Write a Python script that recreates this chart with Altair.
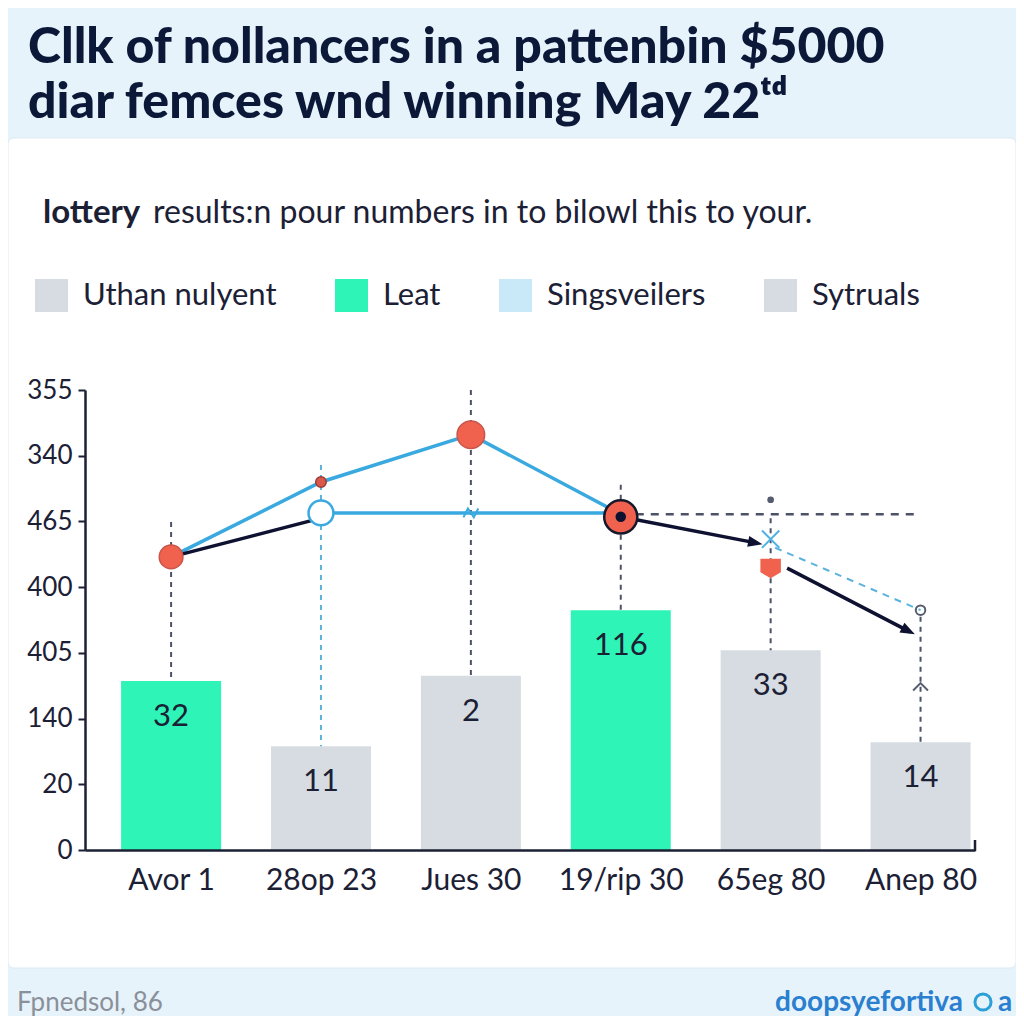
import json
import math
import altair as alt
import pandas as pd

# ---------------- data ----------------
categories = ["Avor 1", "28op 23", "Jues 30", "19/rip 30", "65eg 80", "Anep 80"]
bar_heights = [2.57, 1.58, 2.65, 3.65, 3.04, 1.64]          # in y-tick steps
bar_labels = ["32", "11", "2", "116", "33", "14"]
bar_groups = ["Leat", "Uthan nulyent", "Uthan nulyent", "Leat", "Sytruals", "Sytruals"]
y_tick_labels = ["0", "20", "140", "405", "400", "465", "340", "355"]
legend_names = ["Uthan nulyent", "Leat", "Singsveilers", "Sytruals"]
legend_colors = ["#d6dce1", "#2ef5b7", "#c9e9f9", "#d6dce1"]

upper_x = [0, 1, 2, 3]
upper_y = [4.46, 5.60, 6.32, 5.11]
flat_x = [1, 2, 3]
flat_y = [5.13, 5.13, 5.13]
black_x = [0, 1]
black_y = [4.46, 5.05]
arrow_x0 = [3.0, 4.11]
arrow_y0 = [5.07, 4.29]
arrow_x1 = [3.91, 4.93]
arrow_y1 = [4.67, 3.32]
dblue_x = [4.03, 5.0]
dblue_y = [4.60, 3.65]
drop_x = [0, 2, 3, 4, 5]
drop_top = [4.99, 7.0, 5.56, 5.05, 3.55]
drop_bottom = [2.57, 2.65, 3.65, 3.04, 1.64]
drop_blue_x = [1]
drop_blue_top = [5.86]
drop_blue_bottom = [1.58]
hdash_x0 = [3.0]
hdash_x1 = [5.0]
hdash_y = [5.11]

title_line1 = "Cllk of nollancers in a pattenbin $5000"
title_line2 = "diar femces wnd winning May 22ᵗᵈ"
subtitle_bold = "lottery"
subtitle_rest = "results:n pour numbers in to bilowl this to your."
footer_left = "Fpnedsol, 86"
footer_right = "doopsyefortiva"

# ---------------- scales / axes ----------------
PW, PH = 890, 460
X_DOMAIN = [-0.541, 5.33]
Y_DOMAIN = [0, 7]
INK = "#1b2035"

x_scale = alt.Scale(domain=X_DOMAIN, nice=False, zero=False)
y_scale = alt.Scale(domain=Y_DOMAIN, nice=False, zero=False)
x_axis = alt.Axis(values=list(range(len(categories))),
                  labelExpr=f"{json.dumps(categories)}[datum.value]",
                  title=None, grid=False, ticks=False, domainColor=INK, domainWidth=2.5,
                  labelFont="Lato", labelFontSize=30, labelColor=INK, labelPadding=15,
                  labelFlush=False, labelOverlap=False, zindex=1)
y_axis = alt.Axis(values=list(range(len(y_tick_labels))),
                  labelExpr=f"{json.dumps(y_tick_labels)}[datum.value]",
                  title=None, grid=False, tickSize=7, tickWidth=2, tickColor=INK,
                  domainColor=INK, domainWidth=2.5,
                  labelFont="Lato", labelFontSize=26, labelColor=INK, labelPadding=6,
                  labelFlush=False, labelOverlap=False, zindex=1)


def X(f):
    return alt.X(f"{f}:Q", scale=x_scale, axis=x_axis)


def Y(f):
    return alt.Y(f"{f}:Q", scale=y_scale, axis=y_axis)


one = pd.DataFrame({"k": [0]})
PXX = PW / (X_DOMAIN[1] - X_DOMAIN[0])
PXY = PH / (Y_DOMAIN[1] - Y_DOMAIN[0])

# ---------------- layers ----------------
panel = alt.Chart(one).mark_rect(color="white", cornerRadius=6, stroke="#dde9f2").encode(
    x=alt.value(-77), x2=alt.value(931), y=alt.value(-252), y2=alt.value(578))

bars_df = pd.DataFrame({"x": list(range(len(categories))), "h": bar_heights,
                        "label": bar_labels, "group": bar_groups})
bars = alt.Chart(bars_df).mark_bar(size=100).encode(
    x=X("x"), y=Y("h"),
    color=alt.Color("group:N", scale=alt.Scale(domain=legend_names, range=legend_colors),
                    legend=alt.Legend(orient="none", legendX=-50, legendY=-111,
                                      direction="horizontal", columns=4, title=None,
                                      symbolType="square", symbolSize=1089,
                                      symbolStrokeWidth=0, symbolOpacity=1,
                                      labelFont="Lato", labelFontSize=31, labelColor=INK,
                                      labelOffset=15, labelLimit=400, columnPadding=58,
                                      padding=0, offset=0)))

bar_text = alt.Chart(bars_df).mark_text(font="Lato", fontSize=31, color=INK, dy=36,
                                        baseline="middle").encode(
    x=X("x"), y=Y("h"), text="label:N")

drops = alt.Chart(pd.DataFrame({"x": drop_x, "t": drop_top, "b": drop_bottom})).mark_rule(
    color="#4c5368", strokeWidth=2, strokeDash=[5, 5]).encode(x=X("x"), y=Y("t"), y2="b:Q")
drops_blue = alt.Chart(pd.DataFrame({"x": drop_blue_x, "t": drop_blue_top,
                                     "b": drop_blue_bottom})).mark_rule(
    color="#5cb3dc", strokeWidth=2, strokeDash=[5, 5]).encode(x=X("x"), y=Y("t"), y2="b:Q")
hdash = alt.Chart(pd.DataFrame({"x": hdash_x0, "x1": hdash_x1, "y": hdash_y})).mark_rule(
    color="#4c5368", strokeWidth=2.5, strokeDash=[8, 7]).encode(x=X("x"), x2="x1:Q", y=Y("y"))

upper = alt.Chart(pd.DataFrame({"x": upper_x, "y": upper_y})).mark_line(
    color="#3aa9e0", strokeWidth=3.5).encode(x=X("x"), y=Y("y"))
flat = alt.Chart(pd.DataFrame({"x": flat_x, "y": flat_y})).mark_line(
    color="#3aa9e0", strokeWidth=3.5).encode(x=X("x"), y=Y("y"))
black = alt.Chart(pd.DataFrame({"x": black_x, "y": black_y})).mark_line(
    color="#0e1130", strokeWidth=3.5).encode(x=X("x"), y=Y("y"))
dblue = alt.Chart(pd.DataFrame({"x": dblue_x, "y": dblue_y})).mark_line(
    color="#5cb3dc", strokeWidth=2, strokeDash=[7, 6]).encode(x=X("x"), y=Y("y"))

arr_df = pd.DataFrame({"x": arrow_x0, "y": arrow_y0, "x1": arrow_x1, "y1": arrow_y1})
arr_df["ang"] = [math.degrees(math.atan2((a - b) * PXY, (c - d) * PXX)) for a, b, c, d in
                 zip(arrow_y0, arrow_y1, arrow_x1, arrow_x0)]
arrows = alt.Chart(arr_df).mark_rule(color="#0e1130", strokeWidth=3.5).encode(
    x=X("x"), y=Y("y"), x2="x1:Q", y2="y1:Q")
heads = alt.Chart(arr_df).mark_point(shape="M-1,-0.6L0.6,0L-1,0.6Z", filled=True, size=330,
                                     color="#0e1130", opacity=1).encode(
    x=X("x1"), y=Y("y1"), angle=alt.Angle("ang:Q", scale=None))


def pts(xs, ys, **kw):
    return alt.Chart(pd.DataFrame({"x": xs, "y": ys})).mark_point(opacity=1, **kw).encode(
        x=X("x"), y=Y("y"))


m1 = pts([0], [4.46], shape="circle", filled=True, size=560, fill="#f0624e", stroke="#c9554a", strokeWidth=1.5)
m2 = pts([1], [5.60], shape="circle", filled=True, size=110, fill="#d9584a", stroke="#9a3c36", strokeWidth=1.5)
m3 = pts([1], [5.13], shape="circle", filled=True, size=620, fill="white", stroke="#3aa9e0", strokeWidth=2.5)
m4 = pts([2], [6.32], shape="circle", filled=True, size=760, fill="#f0624e", stroke="#c9554a", strokeWidth=1.5)
m5 = pts([2], [5.13], shape="M-1,0.6L-0.4,-0.6L0.4,0.6L1,-0.6", filled=False, size=220, stroke="#3aa9e0", strokeWidth=2)
m6 = pts([3], [5.07], shape="circle", filled=True, size=1100, fill="#f0624e", stroke="#16182a", strokeWidth=2.5)
m7 = pts([3], [5.07], shape="circle", filled=True, size=110, fill="#0e1130")
m8 = pts([4], [5.33], shape="circle", filled=True, size=45, fill="#555c70")
m9 = pts([4], [4.73], shape="M-1,-1L1,1M1,-1L-1,1", filled=False, size=300, stroke="#4fb2e3", strokeWidth=2)
m10 = pts([4], [4.29], shape="M-1,-0.9L1,-0.9L1,0.4L0,1L-1,0.4Z", filled=True, size=420, fill="#f0624e")
m11 = pts([5], [3.65], shape="circle", filled=False, size=90, stroke="#555c70", strokeWidth=2)
m12 = pts([5], [2.54], shape="M-1,1L0,0L1,1", filled=False, size=220, stroke="#555c70", strokeWidth=2)


def txt(t, x, y, align="left", **kw):
    return alt.Chart(pd.DataFrame({"t": [t]})).mark_text(align=align, baseline="alphabetic", **kw).encode(
        text="t:N", x=alt.value(x), y=alt.value(y))


t1 = txt(title_line1, -57, -327, font="Lato", fontSize=50, fontWeight=900, color="#0c1838")
t2 = txt(title_line2, -57, -272, font="Lato", fontSize=50, fontWeight=900, color="#0c1838")
s1 = txt(subtitle_bold, -42, -167, font="Lato", fontSize=33, fontWeight="bold", color=INK)
s2 = txt(subtitle_rest, 68, -167, font="Lato", fontSize=32, color=INK)
f1 = txt(footer_left, -68, 621, font="Lato", fontSize=26, color="#8a9099")
f2 = txt(footer_right, 878, 621, align="right", font="Lato", fontSize=28, fontWeight="bold", color="#2a7fcf")
f3 = txt("a", 913, 621, font="Lato", fontSize=28, fontWeight="bold", color="#2a7fcf")
icon = alt.Chart(one).mark_point(shape="circle", filled=False, size=260, stroke="#2a9fd8",
                                 strokeWidth=3, opacity=1).encode(x=alt.value(898), y=alt.value(612))
xend = alt.Chart(one).mark_rule(color=INK, strokeWidth=2.5).encode(
    x=alt.value(890), y=alt.value(450), y2=alt.value(461))

chart = alt.layer(
    panel, bars, drops, drops_blue, hdash, upper, flat, black, dblue, arrows, heads,
    m1, m2, m3, m4, m5, m6, m7, m8, m9, m10, m11, m12, bar_text, xend,
    t1, t2, s1, s2, f1, f2, f3, icon,
).properties(
    width=PW, height=PH,
    autosize=alt.AutoSizeParams(type="none"),
    padding={"left": 77, "top": 382, "right": 41, "bottom": 166},
).configure(background="#e7f3fb").configure_view(stroke=None)

chart.save("out.html", embed_options={"renderer": "svg", "actions": False})
